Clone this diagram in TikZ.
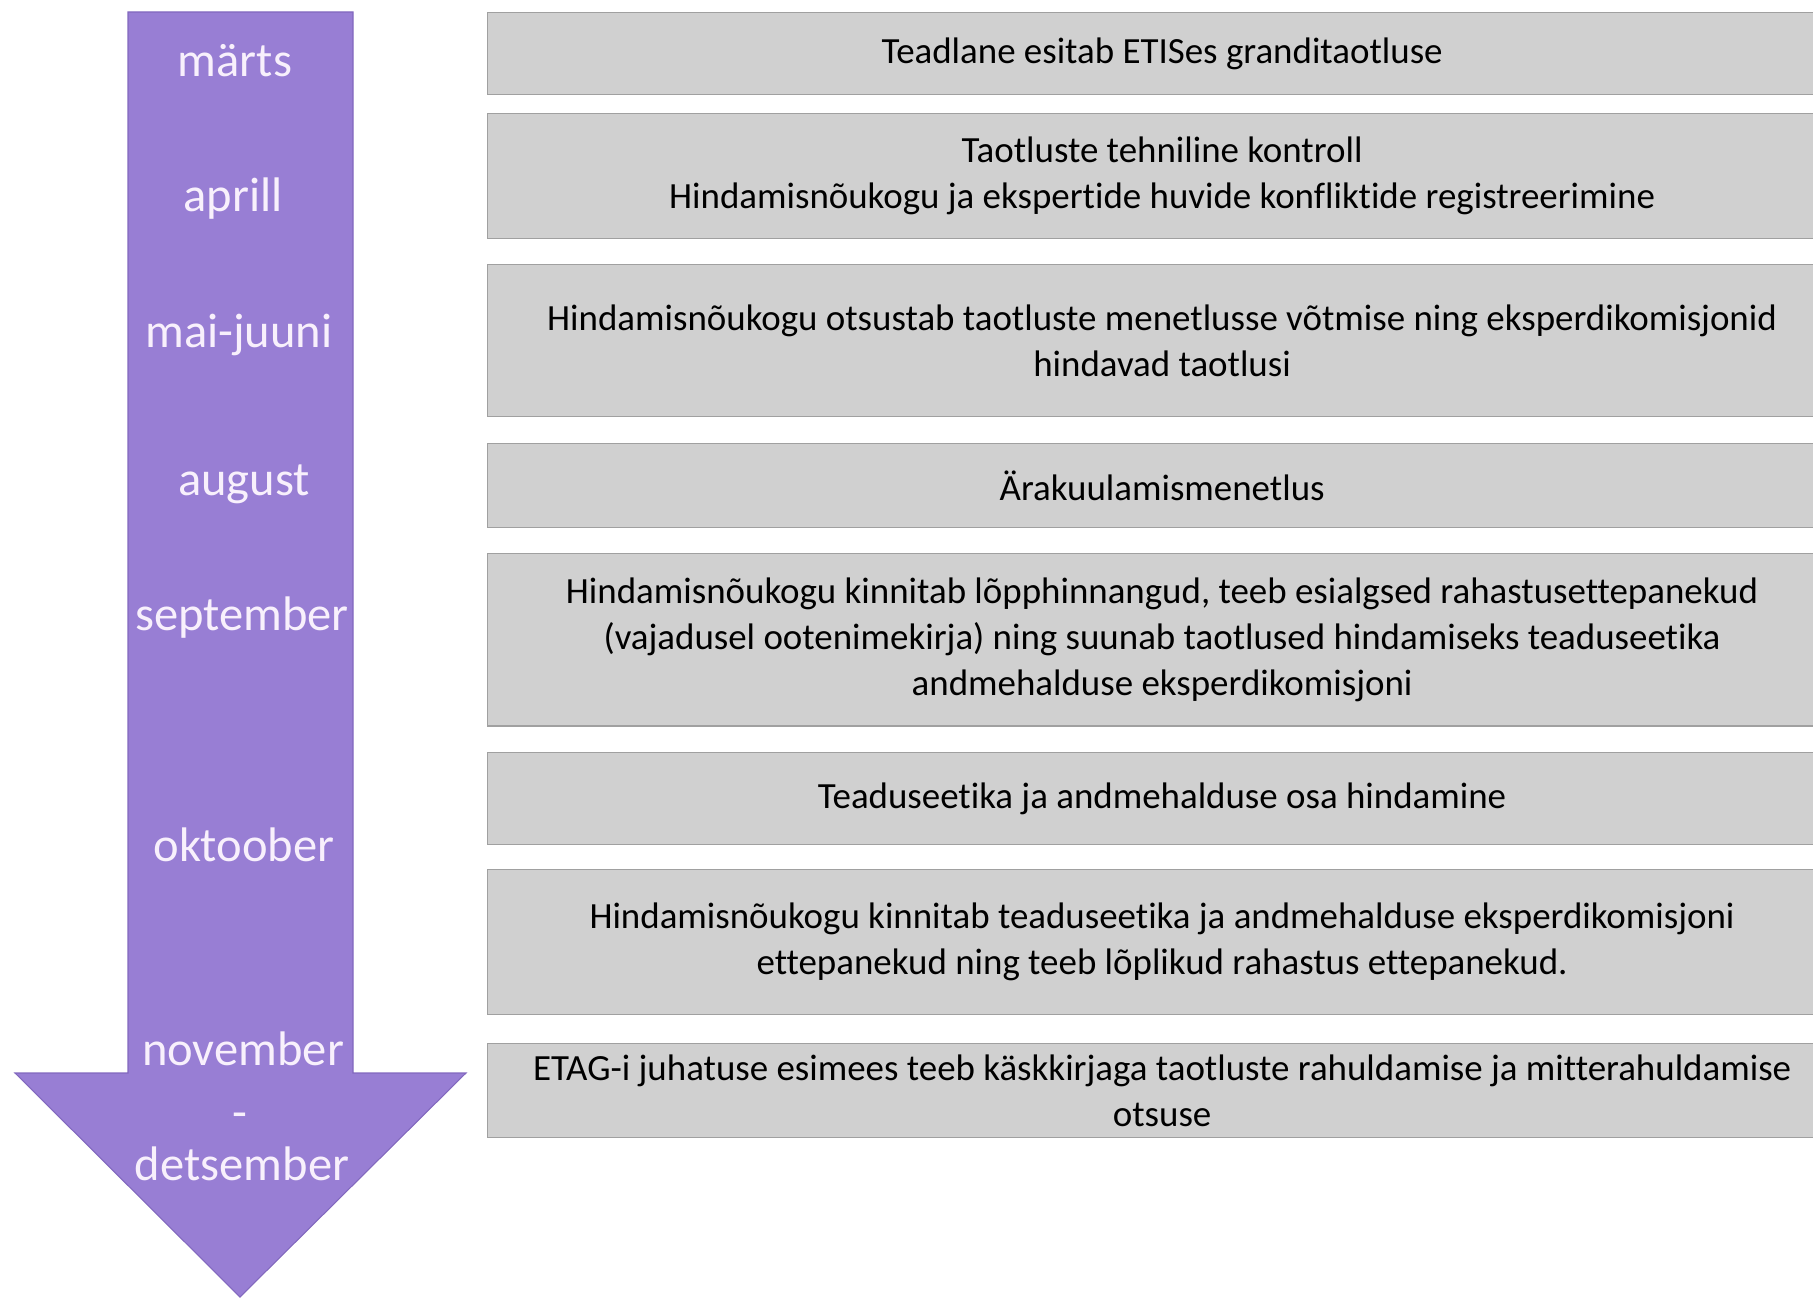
\documentclass[tikz,border=0pt]{standalone}
\usepackage{fontspec}
\setmainfont{Carlito}[Ligatures={NoCommon}]
\usetikzlibrary{positioning}
\definecolor{arrowpurple}{RGB}{152,126,212}
\definecolor{arrowedge}{RGB}{130,104,190}
\definecolor{monthtext}{RGB}{248,240,252}
\definecolor{boxgray}{RGB}{208,208,208}
\definecolor{edgegray}{RGB}{160,160,160}

\begin{document}
\begin{tikzpicture}[x=0.01cm, y=-0.01cm,
    month/.style={text=monthtext, anchor=base, font=\fontsize{13.8}{16}\selectfont},
    stepbox/.style={draw=edgegray, fill=boxgray, anchor=north west, minimum width=13.48cm,
        align=center, inner sep=0pt, font=\fontsize{10.5}{13.1}\selectfont}]
    \useasboundingbox (0, 0) rectangle (1813, 1298);
    % ajatelje nool
    \fill [arrowpurple, draw=arrowedge, line width=0.3pt]
    (128, 12) -- (353, 12) -- (353, 1073) -- (466, 1073) -- (240, 1297)
    -- (15, 1073) -- (128, 1073) -- cycle;
    % kuud
    \node [month] (m1) at (235, 77) {märts};
    \node [month] (m2) at (233, 212) {aprill};
    \node [month] (m3) at (239, 348) {mai-juuni};
    \node [month] (m4) at (244, 496) {august};
    \node [month] (m5) at (242, 631) {september};
    \node [month] (m6) at (244, 861) {oktoober};
    \node [month] (m7) at (243, 1065) {november};
    \node [month] (m8) at (240, 1128) {-};
    \node [month] (m9) at (242, 1180) {detsember};
    % etapid
    \node [stepbox, minimum height=0.82cm] (b1) at (487, 12)
        {Teadlane esitab ETISes granditaotluse};
    \node [stepbox, minimum height=1.25cm] (b2) at (487, 113)
        {Taotluste tehniline kontroll\\
        Hindamisnõukogu ja ekspertide huvide konfliktide registreerimine};
    \node [stepbox, minimum height=1.52cm] (b3) at (487, 264)
        {Hindamisnõukogu otsustab taotluste menetlusse võtmise ning eksperdikomisjonid\\
        hindavad taotlusi};
    \node [stepbox, minimum height=0.84cm] (b4) at (487, 443)
        {Ärakuulamismenetlus};
    \node [stepbox, minimum height=1.72cm] (b5) at (487, 553)
        {Hindamisnõukogu kinnitab lõpphinnangud, teeb esialgsed rahastusettepanekud\\
        (vajadusel ootenimekirja) ning suunab taotlused hindamiseks teaduseetika\\
        andmehalduse eksperdikomisjoni};
    \node [stepbox, minimum height=0.92cm] (b6) at (487, 752)
        {Teaduseetika ja andmehalduse osa hindamine};
    \node [stepbox, minimum height=1.45cm] (b7) at (487, 869)
        {Hindamisnõukogu kinnitab teaduseetika ja andmehalduse eksperdikomisjoni\\
        ettepanekud ning teeb lõplikud rahastus ettepanekud.};
    \node [stepbox, minimum height=0.94cm] (b8) at (487, 1043)
        {ETAG-i juhatuse esimees teeb käskkirjaga taotluste rahuldamise ja mitterahuldamise\\
        otsuse};
\end{tikzpicture}
\end{document}
